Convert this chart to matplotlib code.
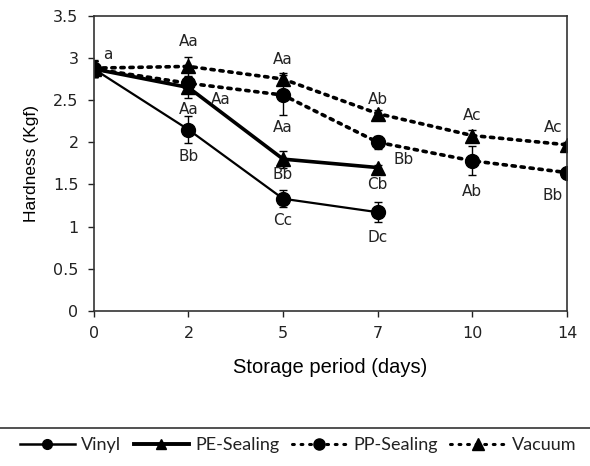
import matplotlib.pyplot as plt
from matplotlib.lines import Line2D

days = ["0", "2", "5", "7", "10", "14"]

vinyl = [2.87, 2.15, 1.33, 1.17]
vinyl_err = [0.10, 0.16, 0.10, 0.12]
pe = [2.87, 2.65, 1.80, 1.70]
pe_err = [0.10, 0.12, 0.10, 0.03]
pp = [2.87, 2.70, 2.56, 2.00, 1.78, 1.64]
pp_err = [0.10, 0.05, 0.24, 0.08, 0.17, 0.05]
vac = [2.88, 2.90, 2.75, 2.34, 2.08, 1.97]
vac_err = [0.10, 0.11, 0.07, 0.04, 0.06, 0.03]

# letter labels: (x index, y, text)
vinyl_lab = [(1, 1.83, "Bb"), (2, 1.07, "Cc"), (3, 0.87, "Dc")]
pe_lab = [(1, 2.39, "Aa"), (2, 1.62, "Bb"), (3, 1.50, "Cb")]
pp_lab = [(1.34, 2.51, "Aa"), (2, 2.18, "Aa"), (3.27, 1.79, "Bb"), (4, 1.42, "Ab"), (4.85, 1.37, "Bb")]
vac_lab = [(1, 3.20, "Aa"), (2, 2.98, "Aa"), (3, 2.51, "Ab"), (4, 2.32, "Ac"), (4.85, 2.18, "Ac")]

fig = plt.figure(figsize=(5.9, 4.66), dpi=100)
ax = fig.add_axes([0.159, 0.333, 0.802, 0.633])

dot = (0, (0.9, 1.6))
x = list(range(len(days)))
ax.errorbar(x[:4], vinyl, yerr=vinyl_err, color="black", lw=1.6, marker="o", ms=10,
            capsize=3, elinewidth=1)
ax.errorbar(x[:4], pe, yerr=pe_err, color="black", lw=2.6, marker="^", ms=10,
            capsize=3, elinewidth=1)
pp_bar = ax.errorbar(x, pp, yerr=pp_err, color="black", lw=2.6, ls=dot, marker="o", ms=10,
                     capsize=3, elinewidth=1)
vac_bar = ax.errorbar(x, vac, yerr=vac_err, color="black", lw=2.6, ls=dot, marker="^", ms=10,
                      capsize=3, elinewidth=1)
for b in [pp_bar, vac_bar]:
    b[0].set_dash_capstyle("round")

for lab in vinyl_lab + pe_lab + pp_lab + vac_lab:
    ax.text(lab[0], lab[1], lab[2], ha="center", va="center", fontsize=11, color="#222222")
ax.text(0.15, 3.04, "a", ha="center", va="center", fontsize=11, color="#222222")

ax.set_xlim(0, 5)
ax.set_ylim(0, 3.5)
ax.set_xticks(x)
ax.set_xticklabels(days)
ax.set_yticks([0, 0.5, 1, 1.5, 2, 2.5, 3, 3.5])
ax.set_yticklabels(["0", "0.5", "1", "1.5", "2", "2.5", "3", "3.5"])
ax.tick_params(labelsize=11.5, length=4, width=1, colors="#222222", pad=7)
for s in ax.spines.values():
    s.set_linewidth(1.2)
    s.set_color("#333333")

ax.set_ylabel("Hardness (Kgf)", fontsize=12.5, family="Liberation Sans", labelpad=10)
ax.set_xlabel("Storage period (days)", fontsize=14.5, family="Liberation Sans", labelpad=12)

handles = [
    Line2D([], [], color="black", lw=1.8, marker="o", ms=7),
    Line2D([], [], color="black", lw=2.8, marker="^", ms=7),
    Line2D([], [], color="black", lw=2.2, ls=(0, (0.6, 2.2)), marker="o", ms=8, dash_capstyle="round"),
    Line2D([], [], color="black", lw=2.2, ls=(0, (0.6, 2.2)), marker="^", ms=8, dash_capstyle="round"),
]
names = ["Vinyl", "PE-Sealing", "PP-Sealing", "Vacuum"]
leg = fig.legend(handles, names, loc="center", bbox_to_anchor=(0.505, 0.045), ncol=4,
                 frameon=False, handlelength=3.05, columnspacing=0.7, handletextpad=0.35,
                 prop={"family": "Lato", "size": 13})
for t in leg.get_texts():
    t.set_color("#222222")

# top border of the legend box
fig.add_artist(Line2D([0, 1], [0.0815, 0.0815], transform=fig.transFigure,
                      color="#333333", lw=1.2))

fig.savefig("out.png", dpi=100)
